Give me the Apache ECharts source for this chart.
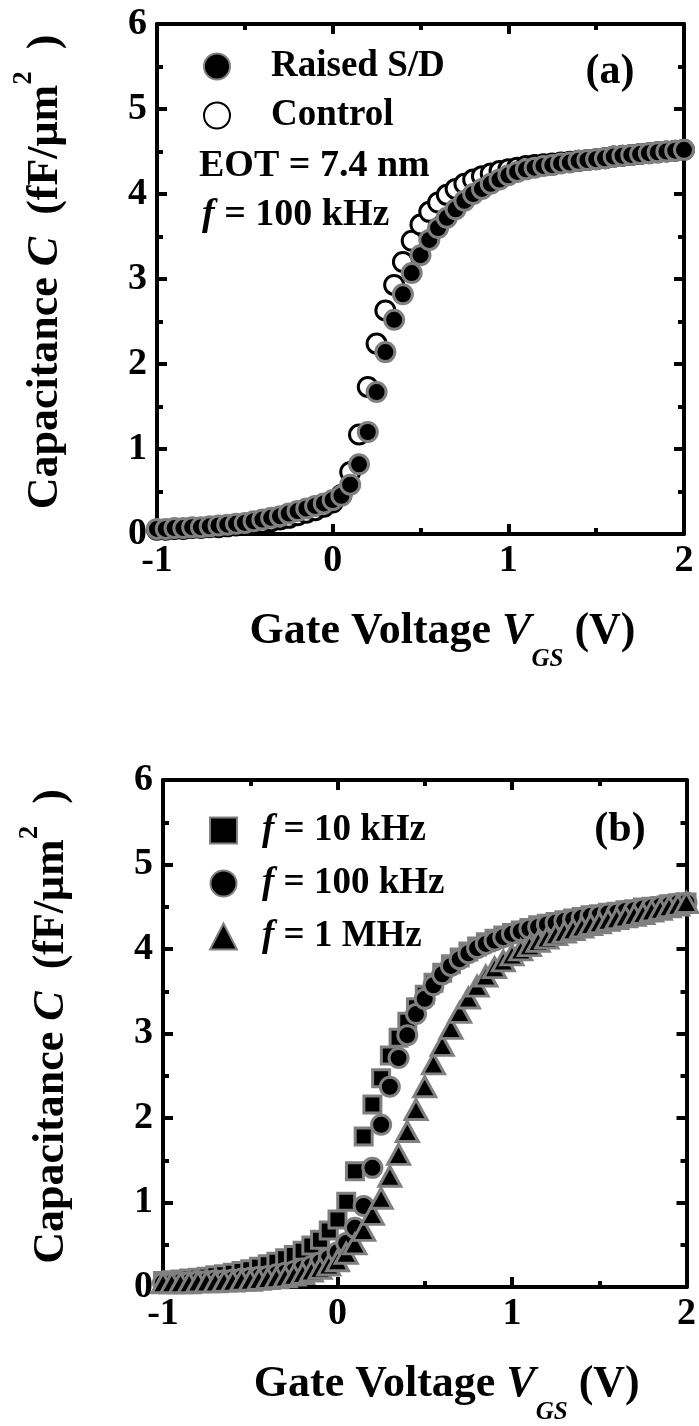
<!DOCTYPE html>
<html>
<head>
<meta charset="utf-8">
<script src="https://cdn.jsdelivr.net/npm/echarts@6/dist/echarts.min.js"></script>
<style>
  html, body { margin: 0; padding: 0; background: #fff; }
  #chart { width: 699px; height: 1426px; }
</style>
</head>
<body>
<div id="chart"></div>
<script>
// Gate voltage sweep (V)
const gateVoltage = [
  -1.00, -0.95, -0.90, -0.85, -0.80, -0.75, -0.70, -0.65, -0.60, -0.55,
  -0.50, -0.45, -0.40, -0.35, -0.30, -0.25, -0.20, -0.15, -0.10, -0.05,
   0.00,  0.05,  0.10,  0.15,  0.20,  0.25,  0.30,  0.35,  0.40,  0.45,
   0.50,  0.55,  0.60,  0.65,  0.70,  0.75,  0.80,  0.85,  0.90,  0.95,
   1.00,  1.05,  1.10,  1.15,  1.20,  1.25,  1.30,  1.35,  1.40,  1.45,
   1.50,  1.55,  1.60,  1.65,  1.70,  1.75,  1.80,  1.85,  1.90,  1.95,
   2.00
];

// Panel (a): capacitance (fF/um^2) at 100 kHz
const capRaisedSD = [
  0.06, 0.06, 0.07, 0.07, 0.08, 0.08, 0.09, 0.10, 0.11, 0.12,
  0.13, 0.15, 0.17, 0.19, 0.21, 0.24, 0.27, 0.30, 0.33, 0.36,
  0.40, 0.45, 0.58, 0.82, 1.20, 1.67, 2.14, 2.52, 2.82, 3.07,
  3.28, 3.46, 3.60, 3.72, 3.82, 3.92, 4.00, 4.06, 4.12, 4.17,
  4.22, 4.26, 4.29, 4.31, 4.33, 4.34, 4.36, 4.37, 4.39, 4.40,
  4.41, 4.42, 4.44, 4.45, 4.46, 4.47, 4.48, 4.49, 4.50, 4.51,
  4.52
];
const capControl = [
  0.05, 0.05, 0.06, 0.06, 0.07, 0.07, 0.08, 0.08, 0.09, 0.10,
  0.11, 0.12, 0.13, 0.15, 0.17, 0.19, 0.22, 0.25, 0.28, 0.32,
  0.37, 0.46, 0.73, 1.17, 1.73, 2.24, 2.63, 2.93, 3.20, 3.45,
  3.64, 3.79, 3.90, 3.99, 4.06, 4.12, 4.17, 4.21, 4.24, 4.27,
  4.29, 4.31, 4.33, 4.34, 4.35, 4.36, 4.37, 4.38, 4.39, 4.40,
  4.41, 4.42, 4.44, 4.45, 4.46, 4.47, 4.48, 4.49, 4.50, 4.51,
  4.52
];

// Panel (b): capacitance (fF/um^2) at three measurement frequencies
const cap10kHz = [
  0.07, 0.08, 0.09, 0.10, 0.11, 0.12, 0.14, 0.15, 0.17, 0.19,
  0.21, 0.24, 0.27, 0.30, 0.34, 0.38, 0.43, 0.49, 0.56, 0.67,
  0.80, 1.01, 1.37, 1.78, 2.16, 2.47, 2.74, 2.95, 3.14, 3.31,
  3.46, 3.60, 3.72, 3.82, 3.90, 3.97, 4.03, 4.08, 4.12, 4.16,
  4.19, 4.22, 4.25, 4.28, 4.30, 4.32, 4.34, 4.36, 4.38, 4.40,
  4.41, 4.43, 4.44, 4.46, 4.47, 4.49, 4.50, 4.51, 4.53, 4.54,
  4.55
];
const cap100kHz = [
  0.05, 0.05, 0.06, 0.06, 0.07, 0.07, 0.08, 0.08, 0.09, 0.10,
  0.11, 0.12, 0.13, 0.15, 0.17, 0.19, 0.22, 0.25, 0.29, 0.34,
  0.41, 0.52, 0.70, 0.96, 1.41, 1.92, 2.37, 2.71, 2.98, 3.23,
  3.41, 3.57, 3.70, 3.80, 3.88, 3.95, 4.01, 4.06, 4.10, 4.14,
  4.18, 4.21, 4.24, 4.26, 4.29, 4.31, 4.33, 4.35, 4.37, 4.39,
  4.40, 4.42, 4.43, 4.45, 4.46, 4.48, 4.49, 4.51, 4.52, 4.54,
  4.55
];
const cap1MHz = [
  0.05, 0.05, 0.05, 0.05, 0.06, 0.06, 0.06, 0.07, 0.07, 0.08,
  0.08, 0.09, 0.10, 0.11, 0.12, 0.14, 0.16, 0.19, 0.22, 0.26,
  0.31, 0.40, 0.51, 0.67, 0.86, 1.05, 1.31, 1.57, 1.84, 2.10,
  2.37, 2.64, 2.86, 3.06, 3.25, 3.42, 3.56, 3.68, 3.78, 3.86,
  3.93, 3.99, 4.04, 4.09, 4.13, 4.17, 4.20, 4.23, 4.26, 4.29,
  4.31, 4.34, 4.36, 4.38, 4.40, 4.42, 4.45, 4.47, 4.50, 4.52,
  4.55
];

// Axis ranges
const voltageRange = [-1, 2];
const capRange = [0, 6];

const FONT = '"Liberation Serif", "Times New Roman", serif';
const GREY = '#808080';

const pairs = (ys) => gateVoltage.map((v, i) => [v, ys[i]]);

const lineStyle = { color: '#000', width: 4 };
function frameAxis(gridIndex, position, withLabels, extra) {
  const vertical = position === 'left' || position === 'right';
  return Object.assign({
    type: 'value',
    gridIndex,
    position,
    min: vertical ? capRange[0] : voltageRange[0],
    max: vertical ? capRange[1] : voltageRange[1],
    interval: 1,
    axisLine: { show: true, onZero: false, lineStyle },
    axisTick: { show: true, inside: true, length: 10, lineStyle: { color: '#000', width: 4 } },
    minorTick: { show: true, splitNumber: 2, length: 6, lineStyle: { color: '#000', width: 4 } },
    splitLine: { show: false },
    minorSplitLine: { show: false },
    axisLabel: {
      show: withLabels,
      color: '#000',
      fontFamily: FONT,
      fontWeight: 'bold',
      fontSize: 38,
      margin: vertical ? 10 : 8
    }
  }, extra || {});
}

const textTok = { fontFamily: FONT, fontWeight: 'bold', color: '#000' };
const xName = {
  name: '{t|Gate Voltage }{v|V}{s|GS}{t| (V)}',
  nameLocation: 'middle',
  nameGap: 58,
  nameTextStyle: {
    padding: [0, 0, 0, 44],
    rich: {
      t: Object.assign({ fontSize: 44, lineHeight: 80 }, textTok),
      v: Object.assign({ fontSize: 44, lineHeight: 80, fontStyle: 'italic' }, textTok),
      s: Object.assign({ fontSize: 25, lineHeight: 24, fontStyle: 'italic', verticalAlign: 'bottom' }, textTok)
    }
  }
};
const yName = {
  name: '{t|Capacitance }{v|C}{t|  (fF/μm}{p|2}{t|  )}',
  nameLocation: 'middle',
  nameGap: 76,
  nameTextStyle: {
    padding: [0, 0, 0, 14],
    rich: {
      t: Object.assign({ fontSize: 44, lineHeight: 70 }, textTok),
      v: Object.assign({ fontSize: 44, lineHeight: 70, fontStyle: 'italic' }, textTok),
      p: Object.assign({ fontSize: 27, lineHeight: 26, verticalAlign: 'top' }, textTok)
    }
  }
};

function scatter(name, data, xi, yi, symbol, size, fill, border, z) {
  return {
    type: 'scatter', name, data: pairs(data),
    xAxisIndex: xi, yAxisIndex: yi,
    symbol, symbolSize: size, z,
    itemStyle: { color: fill, borderColor: border, borderWidth: 3, opacity: 1 },
    emphasis: { disabled: true },
    silent: true
  };
}

const legendText = { color: '#000', fontFamily: FONT, fontWeight: 'bold', fontSize: 37 };

const option = {
  backgroundColor: '#fff',
  animation: false,
  grid: [
    { left: 157, right: 15, top: 24, height: 510 },
    { left: 163, right: 12, top: 780, height: 510 }
  ],
  xAxis: [
    frameAxis(0, 'bottom', true, xName),
    frameAxis(0, 'top', false),
    frameAxis(1, 'bottom', true, xName),
    frameAxis(1, 'top', false)
  ],
  yAxis: [
    frameAxis(0, 'left', true, yName),
    frameAxis(0, 'right', false),
    frameAxis(1, 'left', true, yName),
    frameAxis(1, 'right', false)
  ],
  legend: [
    {
      data: ['Raised S/D', 'Control'],
      orient: 'vertical', left: 203, top: 48, padding: 0,
      itemWidth: 26, itemHeight: 26, itemGap: 12,
      textStyle: Object.assign({ padding: [0, 0, 0, 36] }, legendText),
      selectedMode: false
    },
    {
      data: [
        { name: '10 kHz', icon: 'rect' },
        { name: '100 kHz', icon: 'circle' },
        { name: '1 MHz', icon: 'triangle' }
      ],
      orient: 'vertical', left: 209, top: 812, padding: 0,
      itemWidth: 27, itemHeight: 26, itemGap: 16,
      formatter: (n) => '{i|f} = ' + n,
      textStyle: Object.assign({
        padding: [0, 0, 0, 20],
        rich: { i: Object.assign({ fontSize: 37, fontStyle: 'italic' }, textTok) }
      }, legendText),
      selectedMode: false
    }
  ],
  graphic: [
    {
      type: 'text', x: 199, y: 166,
      style: { text: 'EOT = 7.4 nm', fill: '#000', font: 'bold 38px ' + FONT, verticalAlign: 'middle' }
    },
    {
      type: 'text', x: 202, y: 215,
      style: {
        text: '{i|f} = 100 kHz', verticalAlign: 'middle',
        fill: '#000', font: 'bold 38px ' + FONT,
        rich: { i: { fontStyle: 'italic', fontWeight: 'bold', fontSize: 38, fontFamily: FONT, fill: '#000' } }
      }
    },
    {
      type: 'text', x: 610, y: 72,
      style: { text: '(a)', fill: '#000', font: 'bold 42px ' + FONT, align: 'center', verticalAlign: 'middle' }
    },
    {
      type: 'text', x: 620, y: 830,
      style: { text: '(b)', fill: '#000', font: 'bold 42px ' + FONT, align: 'center', verticalAlign: 'middle' }
    }
  ],
  series: [
    scatter('Control', capControl, 0, 0, 'circle', 19, '#fff', '#000', 2),
    scatter('Raised S/D', capRaisedSD, 0, 0, 'circle', 19, '#000', GREY, 3),
    scatter('10 kHz', cap10kHz, 2, 2, 'rect', 17, '#000', GREY, 2),
    scatter('100 kHz', cap100kHz, 2, 2, 'circle', 19, '#000', GREY, 3),
    scatter('1 MHz', cap1MHz, 2, 2, 'triangle', [22, 20], '#000', GREY, 4)
  ]
};

const chart = echarts.init(document.getElementById('chart'), null, { renderer: 'canvas' });
chart.setOption(option);
</script>
</body>
</html>
